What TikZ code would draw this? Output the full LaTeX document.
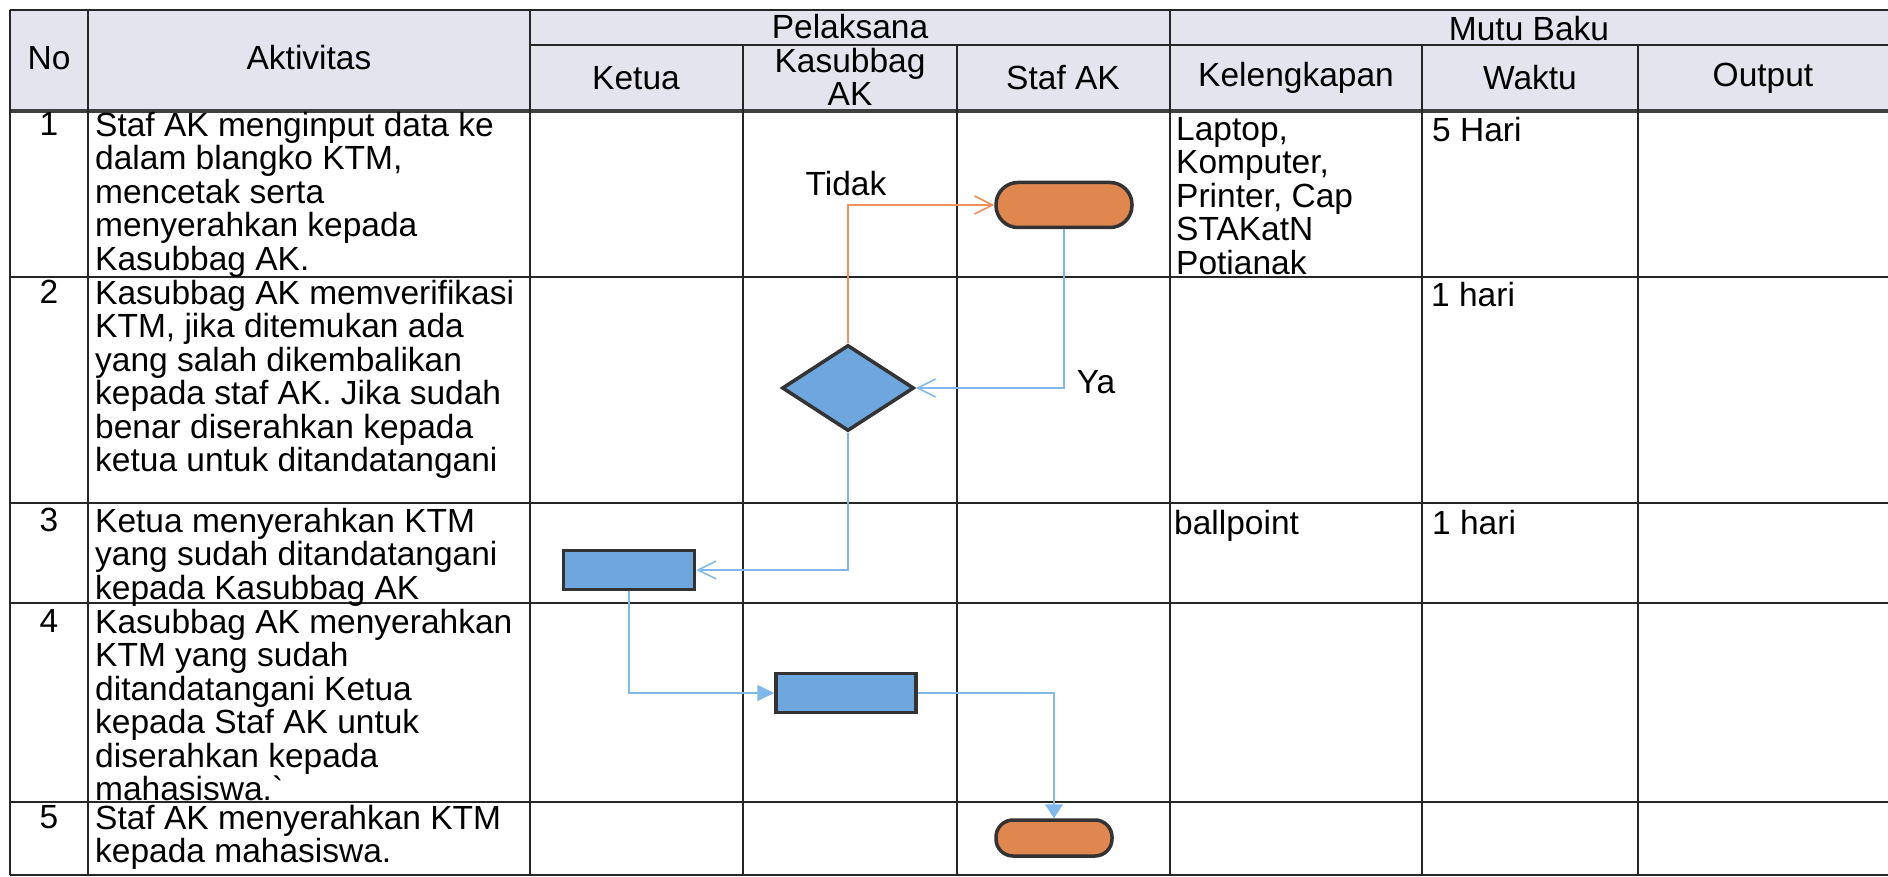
\documentclass[tikz,border=0pt]{standalone}
\usepackage{fontspec}
\setmainfont{Liberation Sans}
\usetikzlibrary{shapes.geometric,arrows.meta}
\definecolor{kepala}{HTML}{E4E4EE}
\definecolor{biru}{HTML}{6EA6DE}
\definecolor{garisbiru}{HTML}{80B8EC}
\definecolor{oranye}{HTML}{E0864F}
\definecolor{garisoranye}{HTML}{F2915A}
\definecolor{tepi}{HTML}{333333}

\begin{document}
\begin{tikzpicture}[x=1pt,y=-1pt,
    font=\fontsize{33.5}{33.5}\selectfont,
    tabel/.style={line width=2pt,draw=black!85},
    isi/.style={anchor=north west,inner sep=0pt,align=left},
    nomor/.style={anchor=north,inner sep=0pt},
    proses/.style={draw=tepi,line width=3.5pt,fill=biru,minimum height=39pt,inner sep=0pt},
    terminal/.style={draw=tepi,line width=3.5pt,fill=oranye,inner sep=0pt},
    keputusan/.style={diamond,draw=tepi,line width=3.5pt,fill=biru,minimum width=132pt,minimum height=86pt,inner sep=0pt},
    alur/.style={draw=garisbiru,line width=1.6pt},
    tolak/.style={draw=garisoranye,line width=1.6pt}]
  \useasboundingbox (0,0) rectangle (1888,877);
  \fill[kepala] (10,10) rectangle (1888,111);

  %garis horizontal
  \draw[tabel] (10,10) -- (1888,10);
  \draw[tabel] (530,45) -- (1888,45);
  \draw[tabel] (10,277) -- (1888,277);
  \draw[tabel] (10,503) -- (1888,503);
  \draw[tabel] (10,603) -- (1888,603);
  \draw[tabel] (10,802) -- (1888,802);
  \draw[tabel] (10,875) -- (1888,875);
  \draw[line width=3.5pt,black!75] (10,111) -- (1888,111);

  %garis vertikal
  \draw[tabel] (10,10) -- (10,875);
  \draw[tabel] (88,10) -- (88,875);
  \draw[tabel] (530,10) -- (530,875);
  \draw[tabel] (743,45) -- (743,875);
  \draw[tabel] (957,45) -- (957,875);
  \draw[tabel] (1170,10) -- (1170,875);
  \draw[tabel] (1422,45) -- (1422,875);
  \draw[tabel] (1638,45) -- (1638,875);

  %judul kolom
  \node (hNo) at (49,58) {No};
  \node (hAkt) at (309,58) {Aktivitas};
  \node (hPel) at (850,27) {Pelaksana};
  \node (hKet) at (636,78) {Ketua};
  \node[align=center,inner sep=0pt] (hKas) at (850,77) {Kasubbag\\AK};
  \node (hStaf) at (1063,78) {Staf AK};
  \node (hMutu) at (1529,29) {Mutu Baku};
  \node (hKel) at (1296,78) {Kelengkapan};
  \node (hWak) at (1530,78) {Waktu};
  \node (hOut) at (1763,78) {Output};

  %isi baris
  \node[nomor] (n1) at (49,112) {1};
  \node[nomor] (n2) at (49,280) {2};
  \node[nomor] (n3) at (49,508) {3};
  \node[nomor] (n4) at (49,609) {4};
  \node[nomor] (n5) at (49,805) {5};
  \node[isi] (a1) at (95,112) {Staf AK menginput data ke\\dalam blangko KTM,\\mencetak serta\\menyerahkan kepada\\Kasubbag AK.};
  \node[isi] (a2) at (95,280) {Kasubbag AK memverifikasi\\KTM, jika ditemukan ada\\yang salah dikembalikan\\kepada staf AK. Jika sudah\\benar diserahkan kepada\\ketua untuk ditandatangani};
  \node[isi] (a3) at (95,508) {Ketua menyerahkan KTM\\yang sudah ditandatangani\\kepada Kasubbag AK};
  \node[isi] (a4) at (95,609) {Kasubbag AK menyerahkan\\KTM yang sudah\\ditandatangani Ketua\\kepada Staf AK untuk\\diserahkan kepada\\mahasiswa.\textasciigrave};
  \node[isi] (a5) at (95,805) {Staf AK menyerahkan KTM\\kepada mahasiswa.};
  \node[isi] (k1) at (1176,117) {Laptop,\\Komputer,\\Printer, Cap\\STAKatN\\Potianak};
  \node[isi] (k3) at (1174,510) {ballpoint};
  \node[isi] (w1) at (1432,117) {5 Hari};
  \node[isi] (w2) at (1431,282) {1 hari};
  \node[isi] (w3) at (1432,510) {1 hari};

  %bagan alir
  \node[terminal,rounded corners=22pt,minimum width=136pt,minimum height=45pt] (mulai) at (1064,205) {};
  \node[keputusan] (cek) at (848,388) {};
  \node[proses,minimum width=131pt] (ttd) at (629,570) {};
  \node[proses,minimum width=140pt] (serah) at (846,693) {};
  \node[terminal,rounded corners=17pt,minimum width=116pt,minimum height=36pt] (selesai) at (1054,838) {};

  \draw[tolak,-{Straight Barb[length=18pt,width=18pt,line width=1.6pt]}] (cek.north) |- (mulai.west);
  \draw[alur,-{Straight Barb[length=18pt,width=18pt,line width=1.6pt]}] (mulai.south) |- (cek.east);
  \draw[alur,-{Straight Barb[length=18pt,width=18pt,line width=1.6pt]}] (cek.south) |- (ttd.east);
  \draw[alur,-{Triangle[length=17pt,width=16pt]},garisbiru] (ttd.south) |- (serah.west);
  \draw[alur,-{Triangle[length=14pt,width=18pt]},garisbiru] (serah.east) -| (selesai.north);
  \node (tidak) at (846,184) {Tidak};
  \node (ya) at (1096,382) {Ya};
\end{tikzpicture}
\end{document}
